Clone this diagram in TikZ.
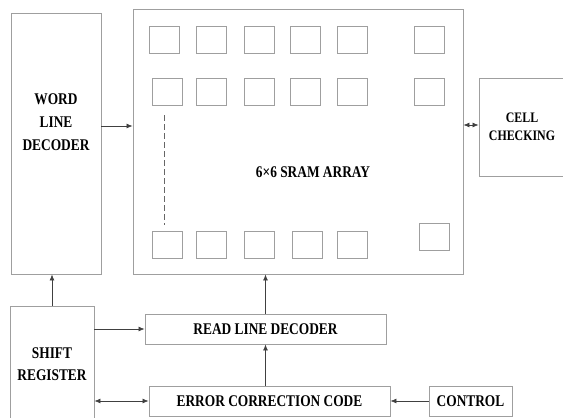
\documentclass[tikz,border=0pt]{standalone}
\usepackage{fontspec}
\setmainfont[FakeStretch=0.82]{Liberation Serif}
\usetikzlibrary{arrows.meta}
\begin{document}
\begin{tikzpicture}
  [x=1pt,y=-1pt,every node/.style={draw=gray!75,line width=0.9pt,font=\bfseries\fontsize{16.3}{23}\selectfont,align=center,inner sep=0pt},
   link/.style={draw=black!75,line width=0.7pt,-{Latex[length=6pt,width=5pt]}},
   bilink/.style={link,{Latex[length=6pt,width=5pt]}-{Latex[length=6pt,width=5pt]}}]
  \tikzstyle{sramcell} = [minimum width=30pt,minimum height=27pt]
  \useasboundingbox (0,0) rectangle (563,418);
  \node[minimum width=90pt,minimum height=261pt,
        label={[draw=none,yshift=21.5pt]center:WORD\\LINE\\DECODER}] (wld) at (56,143.5) {};
  \node[minimum width=330pt,minimum height=265pt,
        label={[draw=none,xshift=15pt,yshift=-30.5pt]center:6×6 SRAM ARRAY}] (sram) at (298,141.5) {};
  \node[minimum width=86pt,minimum height=98pt,font=\bfseries\fontsize{14.5}{18}\selectfont] (cell) at (522,127) {CELL\\CHECKING};
  \node[minimum width=84pt,minimum height=116pt,font=\bfseries\fontsize{16.3}{22}\selectfont] (shift) at (52,364) {SHIFT\\REGISTER};
  \node[minimum width=241pt,minimum height=30pt] (rld) at (265.5,329) {READ LINE DECODER};
  \node[minimum width=241pt,minimum height=30pt] (ecc) at (269.5,401) {ERROR CORRECTION CODE};
  \node[minimum width=83pt,minimum height=30pt] (ctrl) at (470.5,401) {CONTROL};
  % memory cells
  \foreach \x in {164,211.5,259,305.5,352.5,429.5}
    \node[sramcell] at (\x,39.5) {};
  \foreach \x in {167,211.5,259,305.5,352.5,429.5}
    \node[sramcell] at (\x,91.5) {};
  \foreach \x in {167,211.5,259,307.5,352.5}
    \node[sramcell] at (\x,244.5) {};
  \node[sramcell] at (434.5,236.5) {};
  \draw[black!60,line width=0.7pt,dash pattern=on 6pt off 3pt] (164,115) -- (164,225);
  % connections
  \draw[link] ([yshift=17.5pt]wld.east) -- ([yshift=15.5pt]sram.west);
  \draw[bilink] ([yshift=16.5pt]sram.east) -- ([yshift=2pt]cell.west);
  \draw[link] (shift.north) -- (shift.north |- wld.south);
  \draw[link] (rld.north) -- (rld.north |- sram.south);
  \draw[link] (rld.south |- ecc.north) -- (rld.south);
  \draw[link] (shift.east |- rld.west) -- (rld.west);
  \draw[bilink] (shift.east |- ecc.west) -- (ecc.west);
  \draw[link] (ctrl.west) -- (ecc.east);
\end{tikzpicture}
\end{document}
